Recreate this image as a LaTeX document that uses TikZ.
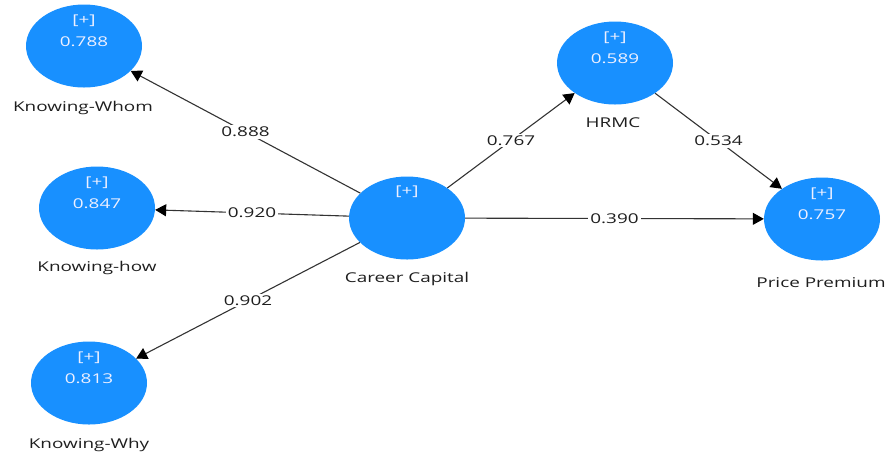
\documentclass[tikz,border=0pt]{standalone}
\usepackage{fontspec}
\usepackage{graphicx}
\setmainfont{Open Sans}
\usetikzlibrary{shapes.geometric,arrows.meta}
\definecolor{lvblue}{HTML}{1890FF}
\definecolor{lvtext}{HTML}{EEF0FF}
\definecolor{edgegray}{HTML}{333333}
\definecolor{labelgray}{HTML}{1E1E1E}
\newcommand{\stretchtxt}[1]{\scalebox{1.4}[1]{#1}}
\tikzset{
  latent/.style={ellipse, fill=lvblue, draw=none, minimum width=116pt, minimum height=83pt, inner sep=0pt},
  intext/.style={text=lvtext, font=\fontsize{13.5}{16}\selectfont, inner sep=0pt},
  varname/.style={text=labelgray, font=\fontsize{13.5}{16}\selectfont, inner sep=0pt},
  pathedge/.style={draw=edgegray, line width=1.1pt, -{Triangle[length=11pt,width=12pt,color=black]}},
  coef/.style={fill=white, text=labelgray, font=\fontsize{13.5}{16}\selectfont, inner sep=2pt, midway}
}
\begin{document}
\begin{tikzpicture}[x=1pt,y=-1pt]
\useasboundingbox (0,0) rectangle (888,459);
% latent variables
\node[latent] (kw) at (84,46) {};
\node[latent] (kh) at (97,208) {};
\node[latent] (ky) at (89,383) {};
\node[latent] (cc) at (407,218) {};
\node[latent] (hr) at (615,63) {};
\node[latent] (pp) at (822,219) {};
% texts inside the circles
\foreach \n/\v in {kw/0.788, kh/0.847, ky/0.813, hr/0.589, pp/0.757}{
  \node[intext] (\n-plus) at ([yshift=25pt]\n.center) {\stretchtxt{[+]}};
  \node[intext] (\n-val) at ([yshift=4pt]\n.center) {\stretchtxt{\v}};
}
\node[intext] (cc-plus) at ([yshift=26pt]cc.center) {\stretchtxt{[+]}};
% names below the circles
\node[varname] (kw-name) at (83,108) {\stretchtxt{Knowing-Whom}};
\node[varname] (kh-name) at (97,268) {\stretchtxt{Knowing-how}};
\node[varname] (ky-name) at (89,445) {\stretchtxt{Knowing-Why}};
\node[varname] (cc-name) at (407,279) {\stretchtxt{Career Capital}};
\node[varname] (hr-name) at (613,123) {\stretchtxt{HRMC}};
\node[varname] (pp-name) at (821,283) {\stretchtxt{Price Premium}};
% paths with coefficients
\draw[pathedge] (cc) -- node[coef] {\stretchtxt{0.888}} (kw);
\draw[pathedge] (cc) -- node[coef] {\stretchtxt{0.920}} (kh);
\draw[pathedge] (cc) -- node[coef] {\stretchtxt{0.902}} (ky);
\draw[pathedge] (cc) -- node[coef] {\stretchtxt{0.767}} (hr);
\draw[pathedge] (cc) -- node[coef] {\stretchtxt{0.390}} (pp);
\draw[pathedge] (hr) -- node[coef] {\stretchtxt{0.534}} (pp);
\end{tikzpicture}
\end{document}
